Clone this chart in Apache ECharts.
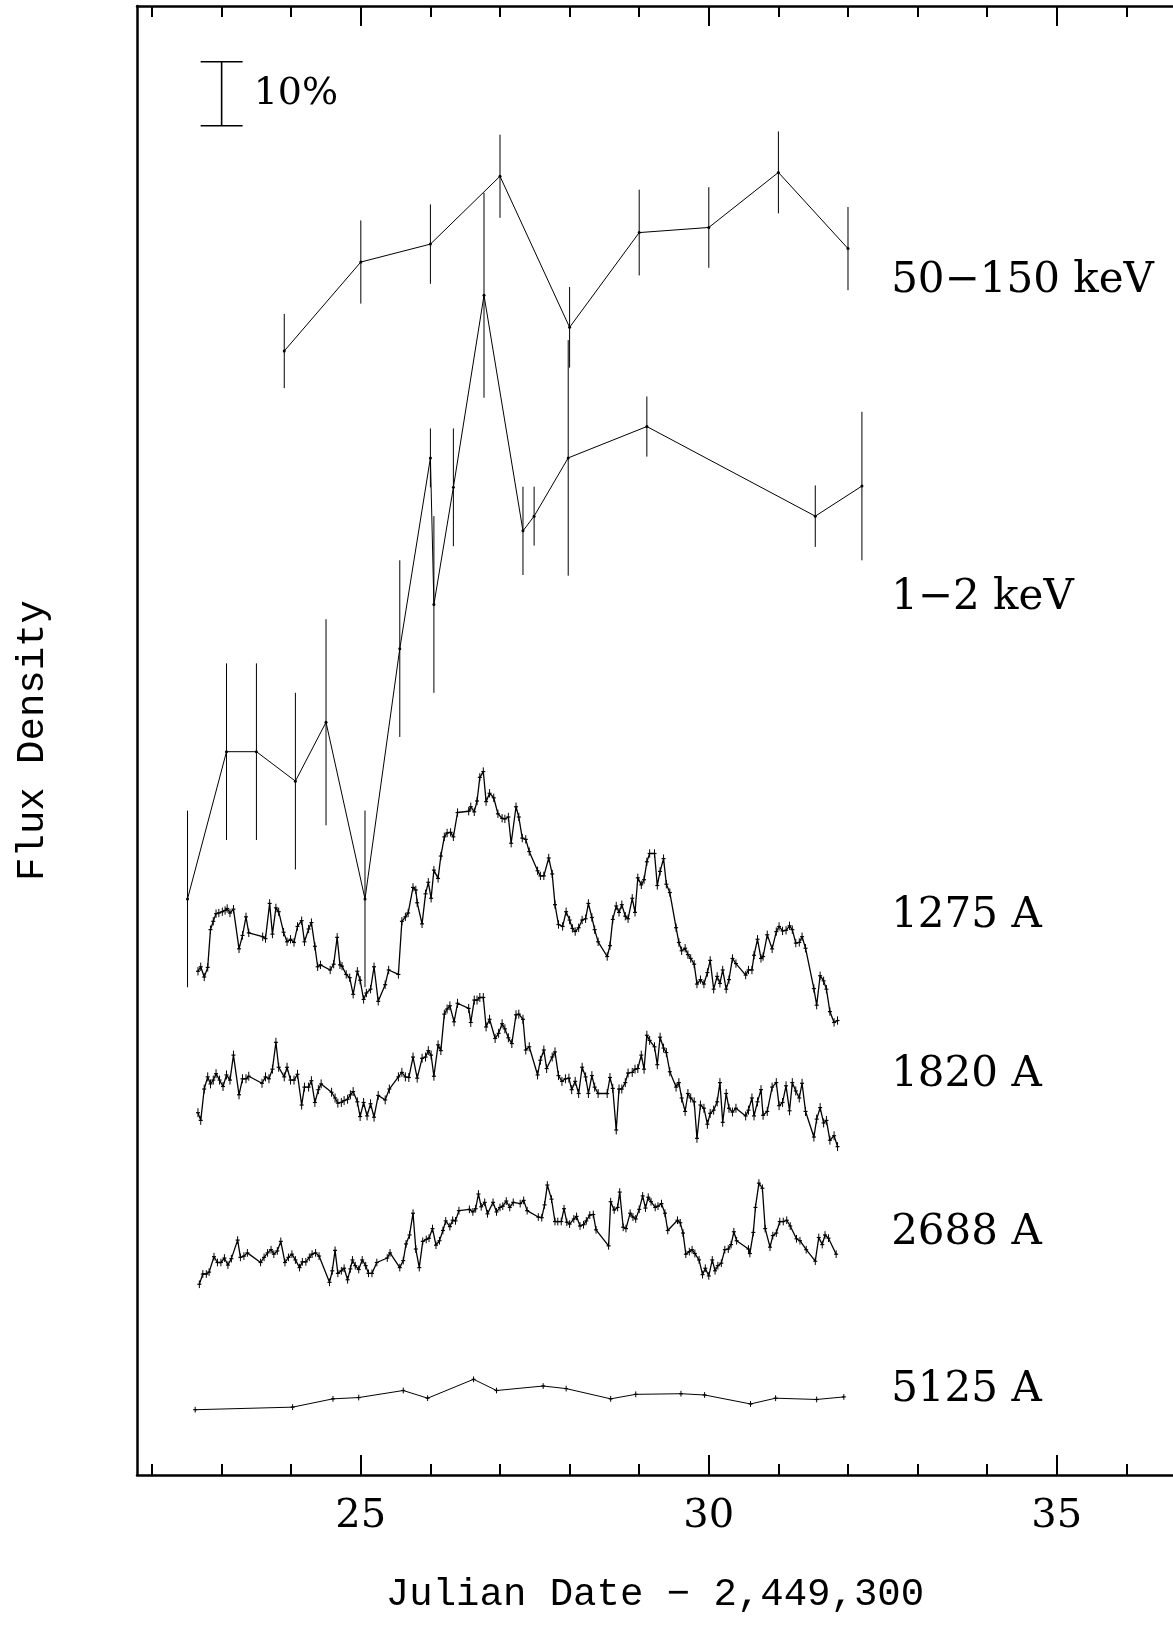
<!DOCTYPE html>
<html><head><meta charset="utf-8">
<script src="https://cdn.jsdelivr.net/npm/echarts@6/dist/echarts.min.js"></script>
<style>html,body{margin:0;padding:0;background:#fff}#c{width:1173px;height:1625px}</style>
</head><body><div id="c"></div>
<script>
// ---------------- DATA ----------------
// x: Julian Date - 2,449,300 ; y: relative flux density in percent (offset, arbitrary zero)
const hardX   = [23.9, 25.0, 26.0, 27.0, 28.0, 29.0, 30.0, 31.0, 32.0];
const hardY   = [175.6, 189.5, 192.3, 202.9, 179.3, 194.1, 194.9, 203.5, 191.6];
const hardErr = [5.8, 6.5, 6.2, 6.5, 6.3, 6.7, 6.3, 6.4, 6.5];

const softX   = [22.51, 23.07, 23.50, 24.06, 24.50, 25.06, 25.56, 26.00, 26.05, 26.33, 26.77, 27.33, 27.49, 27.98, 29.11, 31.53, 32.20];
const softY   = [90.0, 113.0, 113.0, 108.4, 117.6, 90.0, 129.1, 158.9, 136.0, 154.3, 184.3, 147.5, 149.8, 158.9, 163.8, 149.8, 154.5];
const softErr = [13.8, 13.8, 13.8, 13.8, 16.1, 13.8, 13.8, 4.6, 13.8, 9.2, 16.0, 6.9, 4.6, 18.4, 4.7, 4.8, 11.6];

const uv1275 = [[22.66,78.7],[22.70,79.4],[22.75,77.8],[22.80,79.3],[22.84,85.2],[22.88,86.5],[22.92,87.7],[22.96,87.8],[23.01,88.0],[23.05,88.2],[23.08,88.5],[23.12,87.8],[23.17,88.4],[23.25,82.2],[23.30,84.3],[23.35,87.2],[23.39,84.7],[23.59,84.1],[23.63,83.8],[23.69,89.3],[23.73,84.5],[23.78,88.6],[23.82,88.0],[23.89,84.8],[23.94,83.3],[23.99,83.7],[24.04,83.2],[24.09,85.7],[24.15,86.6],[24.19,83.3],[24.25,85.3],[24.29,86.3],[24.34,82.6],[24.38,79.4],[24.42,79.7],[24.56,78.9],[24.61,79.8],[24.66,84.0],[24.70,79.7],[24.73,79.5],[24.79,78.2],[24.84,77.7],[24.89,75.1],[24.95,78.7],[24.99,77.3],[25.04,74.3],[25.08,75.3],[25.14,75.9],[25.19,79.4],[25.25,74.0],[25.35,76.6],[25.40,78.9],[25.54,78.2],[25.59,86.5],[25.64,87.2],[25.68,87.8],[25.75,91.8],[25.79,91.4],[25.81,89.4],[25.88,86.1],[25.93,90.8],[25.97,92.6],[26.01,90.1],[26.05,94.5],[26.11,93.2],[26.15,96.7],[26.20,99.7],[26.24,100.3],[26.29,100.4],[26.33,99.7],[26.39,103.5],[26.55,103.7],[26.58,104.4],[26.63,103.6],[26.67,105.3],[26.71,109.0],[26.76,109.9],[26.80,105.2],[26.85,106.5],[26.91,105.8],[26.97,103.3],[27.03,102.6],[27.07,102.5],[27.12,102.8],[27.16,98.7],[27.23,104.4],[27.27,102.8],[27.32,99.5],[27.37,99.3],[27.42,97.4],[27.54,94.4],[27.58,93.6],[27.63,93.6],[27.70,96.4],[27.75,93.9],[27.79,89.1],[27.84,86.0],[27.90,85.7],[27.95,88.0],[28.00,86.7],[28.04,85.4],[28.08,84.9],[28.13,85.5],[28.18,86.7],[28.23,86.9],[28.27,89.3],[28.32,87.1],[28.36,85.2],[28.41,83.3],[28.54,81.0],[28.58,82.7],[28.62,86.8],[28.67,88.9],[28.71,87.9],[28.75,89.1],[28.80,87.3],[28.84,86.9],[28.90,90.1],[28.94,87.9],[28.98,93.3],[29.03,92.2],[29.07,93.0],[29.11,95.8],[29.15,97.1],[29.22,97.1],[29.26,92.1],[29.30,94.3],[29.35,96.3],[29.39,92.3],[29.44,91.0],[29.53,85.5],[29.57,83.2],[29.61,81.9],[29.66,82.3],[29.70,81.3],[29.74,80.7],[29.79,79.8],[29.83,76.7],[29.88,77.4],[29.93,76.7],[29.98,78.5],[30.02,80.4],[30.07,75.9],[30.12,77.9],[30.16,76.8],[30.20,78.9],[30.25,75.9],[30.29,77.4],[30.34,80.7],[30.39,79.9],[30.53,78.1],[30.57,78.9],[30.62,78.9],[30.65,81.2],[30.70,83.7],[30.75,80.7],[30.78,81.0],[30.84,84.4],[30.91,82.2],[30.97,84.9],[31.01,85.7],[31.06,85.0],[31.11,85.1],[31.16,85.8],[31.20,85.2],[31.25,83.1],[31.30,83.2],[31.34,84.1],[31.39,82.3],[31.51,76.0],[31.55,73.4],[31.60,78.0],[31.65,77.2],[31.69,75.9],[31.74,72.4],[31.80,70.7],[31.85,71.0]];

const uv1820 = [[22.66,56.6],[22.70,55.4],[22.75,60.3],[22.80,62.2],[22.84,61.1],[22.88,61.7],[22.92,62.7],[22.97,61.7],[23.02,60.7],[23.07,62.5],[23.12,61.7],[23.17,65.6],[23.25,59.4],[23.30,61.9],[23.35,61.9],[23.39,62.3],[23.58,61.2],[23.63,62.2],[23.68,61.9],[23.73,63.4],[23.78,67.6],[23.82,63.7],[23.90,62.2],[23.94,63.7],[23.99,61.7],[24.04,61.7],[24.09,62.6],[24.15,57.8],[24.19,60.6],[24.25,60.6],[24.29,61.6],[24.34,58.2],[24.39,60.2],[24.43,61.1],[24.58,59.8],[24.63,58.9],[24.67,58.1],[24.72,58.2],[24.76,58.5],[24.81,58.7],[24.85,59.4],[24.89,59.9],[24.95,58.3],[24.99,56.0],[25.04,58.2],[25.09,56.1],[25.14,58.0],[25.19,55.9],[25.25,59.3],[25.35,58.6],[25.41,60.3],[25.54,62.2],[25.59,62.9],[25.64,62.2],[25.69,62.1],[25.75,65.3],[25.81,62.0],[25.88,65.1],[25.93,65.3],[25.97,66.3],[26.01,65.6],[26.05,62.3],[26.11,67.2],[26.15,66.3],[26.20,72.0],[26.24,72.8],[26.28,73.3],[26.34,70.8],[26.39,73.7],[26.55,72.9],[26.58,70.7],[26.63,74.2],[26.67,74.2],[26.71,74.6],[26.76,74.6],[26.80,70.0],[26.85,71.2],[26.93,68.2],[26.98,69.0],[27.03,70.5],[27.07,69.7],[27.12,68.3],[27.17,67.4],[27.23,71.9],[27.27,72.0],[27.33,71.2],[27.37,66.4],[27.42,66.9],[27.54,62.5],[27.58,64.8],[27.63,66.4],[27.67,63.5],[27.75,65.3],[27.79,66.1],[27.84,62.4],[27.89,61.5],[27.94,61.9],[27.99,62.0],[28.03,60.2],[28.08,61.5],[28.13,59.6],[28.18,63.7],[28.23,62.2],[28.27,59.6],[28.32,62.4],[28.36,60.6],[28.41,59.6],[28.54,59.6],[28.58,62.1],[28.62,60.4],[28.67,53.9],[28.71,60.3],[28.75,60.3],[28.80,61.3],[28.84,62.8],[28.90,62.9],[28.94,63.4],[28.98,63.5],[29.03,65.6],[29.07,63.4],[29.11,68.7],[29.15,67.9],[29.22,66.9],[29.26,64.1],[29.30,68.4],[29.35,66.7],[29.39,66.0],[29.44,63.0],[29.53,60.6],[29.57,61.3],[29.61,58.9],[29.66,56.8],[29.70,59.6],[29.74,58.9],[29.79,58.3],[29.83,52.6],[29.88,57.8],[29.93,57.3],[29.98,54.8],[30.02,56.5],[30.07,57.0],[30.12,58.3],[30.16,61.3],[30.20,55.1],[30.25,59.6],[30.29,57.3],[30.34,56.7],[30.39,57.3],[30.53,56.1],[30.57,57.0],[30.62,58.9],[30.65,56.1],[30.70,58.3],[30.75,60.2],[30.78,56.2],[30.84,56.8],[30.91,60.6],[30.97,61.3],[31.01,57.7],[31.06,58.2],[31.11,60.8],[31.16,56.9],[31.20,61.3],[31.25,60.0],[31.30,58.9],[31.34,61.2],[31.39,56.8],[31.51,52.8],[31.55,55.6],[31.60,57.4],[31.65,55.0],[31.69,55.4],[31.74,52.3],[31.80,53.0],[31.85,51.3]];

const uv2688 = [[22.68,29.8],[22.73,31.4],[22.78,31.4],[22.82,31.7],[22.89,34.1],[22.94,33.2],[22.99,33.2],[23.04,33.9],[23.09,32.8],[23.14,33.8],[23.23,36.7],[23.27,34.0],[23.32,34.2],[23.37,34.7],[23.56,33.2],[23.61,34.0],[23.66,34.7],[23.71,35.2],[23.75,34.5],[23.80,35.0],[23.85,36.5],[23.91,33.2],[23.96,34.0],[24.01,34.5],[24.06,33.6],[24.12,32.4],[24.16,33.3],[24.21,33.3],[24.26,34.0],[24.30,34.5],[24.35,34.7],[24.40,34.2],[24.55,30.1],[24.59,31.9],[24.63,35.1],[24.67,31.5],[24.72,31.9],[24.76,32.3],[24.81,30.5],[24.85,32.2],[24.88,33.6],[24.92,32.7],[24.97,32.1],[25.02,33.6],[25.07,32.7],[25.11,31.5],[25.16,31.5],[25.23,33.2],[25.38,33.9],[25.42,34.7],[25.56,32.4],[25.61,33.5],[25.65,36.1],[25.70,37.5],[25.75,40.9],[25.79,35.3],[25.84,32.4],[25.89,36.5],[25.94,36.8],[25.98,37.0],[26.03,38.5],[26.08,35.9],[26.13,36.6],[26.18,38.2],[26.22,39.7],[26.28,38.8],[26.32,39.8],[26.36,39.7],[26.41,41.3],[26.56,41.5],[26.61,41.1],[26.65,41.6],[26.69,43.9],[26.73,41.9],[26.78,42.6],[26.82,40.8],[26.90,42.6],[26.95,41.1],[27.00,41.8],[27.04,42.0],[27.09,42.8],[27.14,41.8],[27.19,42.6],[27.29,42.4],[27.34,42.9],[27.39,41.3],[27.55,40.3],[27.60,40.2],[27.64,42.2],[27.68,45.3],[27.74,43.1],[27.79,39.6],[27.83,39.6],[27.88,39.6],[27.92,41.6],[27.96,39.5],[28.00,39.2],[28.06,40.0],[28.10,40.4],[28.15,38.9],[28.20,39.1],[28.24,39.7],[28.29,40.6],[28.34,40.7],[28.38,38.3],[28.56,35.8],[28.59,42.7],[28.64,41.4],[28.69,41.8],[28.72,44.2],[28.77,38.7],[28.81,38.5],[28.87,40.9],[28.91,40.3],[28.95,40.0],[29.00,41.5],[29.05,43.6],[29.09,41.7],[29.13,43.4],[29.17,42.7],[29.23,41.8],[29.27,42.0],[29.32,42.4],[29.37,40.9],[29.41,38.2],[29.55,39.8],[29.59,39.4],[29.63,37.8],[29.67,34.5],[29.72,34.9],[29.76,35.2],[29.80,34.6],[29.86,33.6],[29.91,31.3],[29.95,32.3],[30.00,31.1],[30.05,33.6],[30.09,31.9],[30.13,32.7],[30.18,33.1],[30.23,35.2],[30.28,35.3],[30.32,36.0],[30.36,38.0],[30.40,36.6],[30.57,35.3],[30.59,34.6],[30.64,37.9],[30.67,41.8],[30.72,45.6],[30.77,44.8],[30.81,38.5],[30.88,35.6],[30.92,37.4],[30.97,37.8],[31.02,39.6],[31.07,39.6],[31.12,39.8],[31.17,38.9],[31.26,36.9],[31.31,36.6],[31.40,35.2],[31.53,33.4],[31.58,37.1],[31.63,36.0],[31.67,37.5],[31.72,37.0],[31.83,34.5]];

const opt5125X = [22.62, 24.02, 24.60, 24.97, 25.61, 25.96, 26.62, 26.95, 27.62, 27.95, 28.59, 28.95, 29.60, 29.94, 30.60, 30.96, 31.55, 31.94];
const opt5125Y = [10.2, 10.6, 11.9, 12.1, 13.2, 12.0, 14.95, 13.2, 13.9, 13.5, 11.9, 12.6, 12.7, 12.5, 11.1, 12.0, 11.8, 12.2];

// typical 1-sigma error (percent) of the densely sampled curves
const uvErr = { uv1275: 0.65, uv1820: 0.7, uv2688: 0.6, opt5125: 0.45 };

const seriesLabels = ['50\u2212150 keV', '1\u22122 keV', '1275 A', '1820 A', '2688 A', '5125 A'];
const labelAnchorX = 32.62;
const labelAnchorY = [186.6, 137.0, 87.3, 62.5, 37.8, 13.3];

const minorTicks = [22,23,24,25,26,27,28,29,30,31,32,33,34,35,36];
const majorTicks = [25, 30, 35];
const scaleBar = { x: 23.0, lo: 210.8, hi: 220.8, text: '10%' };

const xMin = 21.784, xMax = 36.67, yMin = 0, yMax = 229.5;

// ---------------- BUILD ----------------
const toPairs = (xs, ys) => xs.map((x, i) => [x, ys[i]]);
const toBars = (xs, ys, es) => xs.map((x, i) => [x, ys[i] - es[i], ys[i] + es[i]]);
const pairBars = (pairs, e) => pairs.map(p => [p[0], p[1] - e, p[1] + e]);

function barRenderer(crossHalf) {
  return function (params, api) {
    const x = api.value(0), lo = api.value(1), hi = api.value(2);
    const a = api.coord([x, lo]), b = api.coord([x, hi]);
    const ch = [{ type: 'line', shape: { x1: a[0], y1: a[1], x2: b[0], y2: b[1] }, style: { stroke: '#000', lineWidth: 1 } }];
    if (crossHalf) {
      const c = api.coord([x, (lo + hi) / 2]);
      ch.push({ type: 'line', shape: { x1: c[0] - crossHalf, y1: c[1], x2: c[0] + crossHalf, y2: c[1] }, style: { stroke: '#000', lineWidth: 1.2 } });
    }
    return { type: 'group', children: ch };
  };
}

const lineSeries = (data, width, dots) => ({
  type: 'line', data, xAxisIndex: 0, yAxisIndex: 0,
  symbol: dots ? 'circle' : 'none', symbolSize: 3, showSymbol: !!dots,
  itemStyle: { color: '#000' }, lineStyle: { color: '#000', width }, silent: true, z: 3
});
const barSeries = (data, crossHalf) => ({
  type: 'custom', data, xAxisIndex: 0, yAxisIndex: 0, encode: { x: 0, y: [1, 2] },
  renderItem: barRenderer(crossHalf), silent: true, z: 2
});

const tickStyle = { color: '#000', width: 2 };
const axisFont = { fontFamily: 'DejaVu Serif', fontSize: 40, color: '#000' };
const baseX = { type: 'value', min: xMin, max: xMax, splitLine: { show: false }, axisLabel: { show: false } };

const option = {
  animation: false,
  backgroundColor: '#fff',
  grid: { left: 137, right: 0, top: 6, bottom: 150, containLabel: false, outerBoundsMode: 'none' },
  xAxis: [
    Object.assign({}, baseX, { position: 'bottom',
      axisLine: { show: true, onZero: false, lineStyle: { color: '#000', width: 2.5 } },
      axisTick: { show: true, inside: true, length: 11, lineStyle: tickStyle, customValues: minorTicks } }),
    Object.assign({}, baseX, { position: 'bottom',
      axisLine: { show: false, onZero: false },
      axisTick: { show: true, inside: true, length: 20, lineStyle: tickStyle, customValues: majorTicks },
      axisLabel: Object.assign({ show: true, margin: 22, customValues: majorTicks }, axisFont),
      name: 'Julian Date \u2212 2,449,300', nameLocation: 'middle', nameGap: 100, nameMoveOverlap: false,
      nameTextStyle: { fontFamily: 'Liberation Mono', fontSize: 39, color: '#000' } }),
    Object.assign({}, baseX, { position: 'top',
      axisLine: { show: true, onZero: false, lineStyle: { color: '#000', width: 2.5 } },
      axisTick: { show: true, inside: true, length: 11, lineStyle: tickStyle, customValues: minorTicks } }),
    Object.assign({}, baseX, { position: 'top',
      axisLine: { show: false, onZero: false },
      axisTick: { show: true, inside: true, length: 20, lineStyle: tickStyle, customValues: majorTicks } })
  ],
  yAxis: [{
    type: 'value', min: yMin, max: yMax, position: 'left',
    axisLine: { show: true, onZero: false, lineStyle: { color: '#000', width: 2.5 } },
    axisTick: { show: false }, axisLabel: { show: false }, splitLine: { show: false },
    name: 'Flux Density', nameLocation: 'middle', nameGap: 85, nameRotate: 90, nameMoveOverlap: false,
    nameTextStyle: { fontFamily: 'Liberation Mono', fontSize: 39, color: '#000' }
  }],
  series: [
    lineSeries(toPairs(hardX, hardY), 1, true),
    barSeries(toBars(hardX, hardY, hardErr), 0),
    lineSeries(toPairs(softX, softY), 1, true),
    barSeries(toBars(softX, softY, softErr), 0),
    lineSeries(uv1275, 1.3, false),
    barSeries(pairBars(uv1275, uvErr.uv1275), 2),
    lineSeries(uv1820, 1.3, false),
    barSeries(pairBars(uv1820, uvErr.uv1820), 2),
    lineSeries(uv2688, 1.3, false),
    barSeries(pairBars(uv2688, uvErr.uv2688), 2),
    lineSeries(toPairs(opt5125X, opt5125Y), 1, false),
    barSeries(toBars(opt5125X, opt5125Y, opt5125X.map(() => uvErr.opt5125)), 2),
    { // series labels
      type: 'custom', silent: true, z: 4,
      data: labelAnchorY.map(y => [labelAnchorX, y]), encode: { x: 0, y: 1 },
      renderItem: function (params, api) {
        const p = api.coord([api.value(0), api.value(1)]);
        return { type: 'text', x: p[0], y: p[1], style: {
          text: seriesLabels[params.dataIndex], fill: '#000', font: '42px "DejaVu Serif"',
          textAlign: 'left', textVerticalAlign: 'middle', align: 'left', verticalAlign: 'middle' } };
      }
    },
    { // 10% scale bar
      type: 'custom', silent: true, z: 4,
      data: [[scaleBar.x, scaleBar.lo, scaleBar.hi]], encode: { x: 0, y: [1, 2] },
      renderItem: function (params, api) {
        const a = api.coord([api.value(0), api.value(1)]);
        const b = api.coord([api.value(0), api.value(2)]);
        const w = 21, st = { stroke: '#000', lineWidth: 1.6 };
        return { type: 'group', children: [
          { type: 'line', shape: { x1: a[0], y1: a[1], x2: b[0], y2: b[1] }, style: st },
          { type: 'line', shape: { x1: a[0] - w, y1: a[1], x2: a[0] + w, y2: a[1] }, style: st },
          { type: 'line', shape: { x1: b[0] - w, y1: b[1], x2: b[0] + w, y2: b[1] }, style: st },
          { type: 'text', x: a[0] + 32, y: (a[1] + b[1]) / 2, style: {
            text: scaleBar.text, fill: '#000', font: '38px "DejaVu Serif"',
            textAlign: 'left', textVerticalAlign: 'middle', align: 'left', verticalAlign: 'middle' } }
        ] };
      }
    }
  ]
};

const chart = echarts.init(document.getElementById('c'), null, { renderer: 'canvas', width: 1173, height: 1625 });
chart.setOption(option);
</script>
</body></html>
